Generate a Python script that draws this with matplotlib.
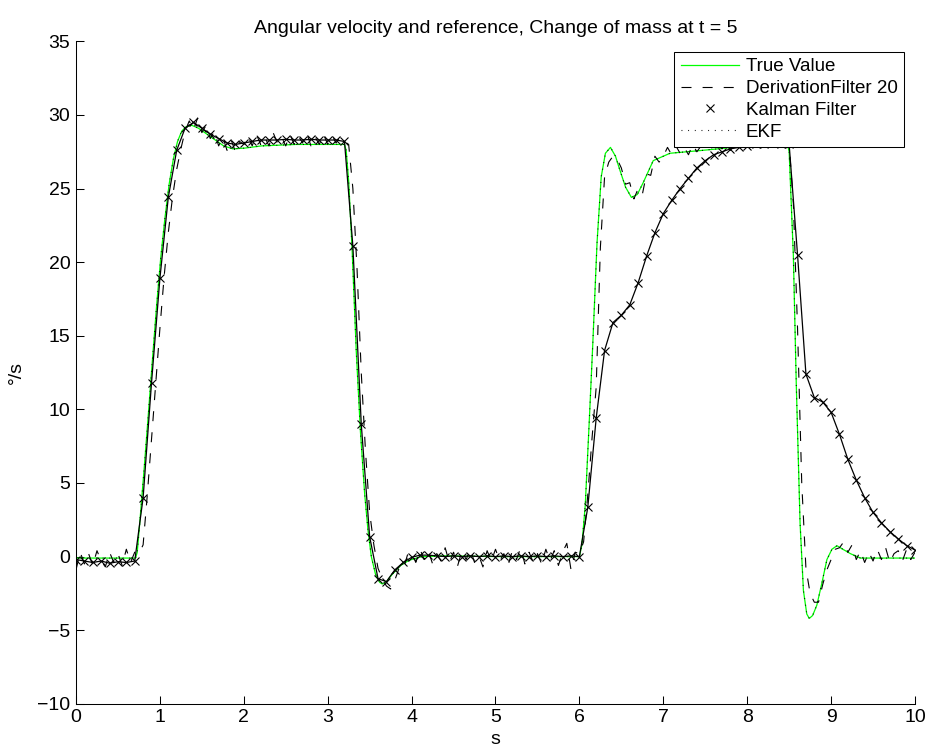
import numpy as np
import matplotlib
matplotlib.use('Agg')
from matplotlib import pyplot as plt

plt.rcParams['font.family'] = ['Liberation Sans', 'DejaVu Sans']

# true angular velocity
true_t = [0.0, 0.71, 0.73, 0.76, 0.81, 0.86, 0.91, 0.96, 1.01, 1.06, 1.11, 1.16, 1.21, 1.26,
          1.31, 1.38, 1.46, 1.56, 1.66, 1.76, 1.87, 2.01, 2.21, 2.62, 3.02, 3.20, 3.22, 3.25,
          3.29, 3.34, 3.39, 3.44, 3.48, 3.52, 3.57, 3.62, 3.65, 3.70, 3.77, 3.87, 3.97, 4.12,
          4.42, 5.03, 5.53, 6.00, 6.03, 6.07, 6.12, 6.16, 6.21, 6.26, 6.31, 6.37, 6.43, 6.48,
          6.55, 6.62, 6.69, 6.76, 6.88, 7.08, 7.47, 7.83, 8.24, 8.48, 8.50, 8.55, 8.585, 8.63,
          8.67, 8.71, 8.74, 8.78, 8.83, 8.89, 8.95, 9.01, 9.07, 9.14, 9.23, 9.35, 9.55, 10.0]
true_v = [-0.1, -0.1, 0.3, 2.3, 5.8, 9.5, 13.3, 17.0, 20.3, 23.0, 25.3, 27.0, 28.2, 28.9,
          29.2, 29.3, 29.1, 28.7, 28.3, 27.9, 27.7, 27.75, 27.9, 28.0, 28.0, 28.0, 27.6, 25.5,
          21.0, 14.0, 8.5, 4.3, 1.8, 0.0, -1.2, -1.75, -1.86, -1.7, -1.2, -0.6, -0.25, 0.0,
          0.05, 0.0, 0.0, 0.0, 0.8, 3.5, 9.5, 14.5, 21.3, 25.8, 27.4, 27.8, 27.2, 26.3,
          25.1, 24.4, 24.6, 25.4, 26.9, 27.4, 27.6, 27.8, 28.0, 28.0, 27.5, 20.5, 11.7, 2.3,
          -2.3, -3.9, -4.2, -4.0, -3.3, -1.8, -0.2, 0.5, 0.74, 0.5, 0.2, -0.1, -0.1, -0.1]

# EKF lies on top of the true value everywhere
ekf_t = list(true_t)
ekf_v = list(true_v)

# derivation filter, sampled every 0.05 s (noisy)
deriv_t = np.linspace(0, 10, 201)
deriv_v = [-0.9, 0.3, -0.5, 0.2, -0.6, 0.4, -0.3, -0.7, 0.3, -0.4,
           0.2, -0.6, 0.5, -0.4, 0.3, 0.2, 0.8, 4.2, 8.0, 11.8,
           15.5, 19.0, 22.0, 24.4, 26.3, 27.7, 28.9, 29.6, 29.0, 29.8,
           28.8, 29.3, 28.4, 28.9, 27.9, 28.5, 27.6, 28.3, 27.5, 28.2,
           28.0, 28.6, 27.9, 28.7, 28.0, 28.5, 27.9, 28.8, 28.1, 28.5,
           27.9, 28.7, 28.0, 28.6, 28.1, 28.8, 27.9, 28.5, 28.0, 28.7,
           28.0, 28.6, 28.1, 28.5, 28.2, 28.0, 25.0, 19.5, 12.5, 7.2,
           3.0, 0.8, -0.8, -1.5, -2.0, -2.2, -1.6, -0.8, -0.9, 0.1,
           0.3, -0.4, 0.5, -0.2, 0.4, -0.5, 0.2, -0.3, 0.6, -0.4,
           0.3, -0.6, 0.4, -0.2, 0.5, -0.4, 0.1, -0.7, 0.4, -0.3,
           0.5, -0.3, 0.2, -0.6, 0.4, -0.2, 0.6, -0.5, 0.3, -0.4,
           0.2, -0.5, 0.5, -0.3, 0.4, -0.6, 0.3, 0.9, -0.9, 0.3,
           0.2, 1.0, 4.2, 8.0, 11.5, 21.0, 25.8, 26.8, 27.2, 27.0,
           26.4, 25.3, 25.4, 24.3, 25.0, 24.6, 26.0, 25.9, 27.2, 26.8,
           27.2, 27.8, 27.3, 27.9, 27.4, 27.8, 27.3, 28.0, 27.5, 27.9,
           27.6, 28.1, 27.5, 28.0, 27.7, 28.2, 27.6, 28.1, 27.8, 28.3,
           27.7, 28.3, 27.9, 28.4, 27.8, 28.2, 28.0, 28.5, 27.9, 28.2,
           28.0, 24.0, 15.5, 5.0, -0.8, -2.5, -3.1, -3.1, -1.9, -0.9,
           -0.2, 0.5, 0.6, 1.0, 0.3, 0.8, -0.2, 0.4, -0.4, 0.3,
           -0.3, 0.5, -0.2, 0.6, -0.4, 0.2, 0.4, -0.3, 0.5, -0.2,
           0.3]

# kalman filter, one sample every 0.1 s
kalman_t = np.linspace(0, 10, 101)
kalman_v = [-0.2, -0.3, -0.4, -0.3, -0.45, -0.35, -0.4, -0.3, 4.0, 11.8,
            18.9, 24.4, 27.6, 29.1, 29.5, 29.1, 28.7, 28.4, 28.1, 28.0,
            28.1, 28.2, 28.3, 28.3, 28.3, 28.35, 28.3, 28.3, 28.35, 28.3,
            28.3, 28.3, 28.2, 21.1, 9.0, 1.35, -1.5, -1.7, -0.9, -0.4,
            -0.05, 0.1, 0.1, 0.05, 0.0, 0.05, 0.0, 0.05, 0.0, 0.05,
            0.0, 0.05, 0.0, 0.05, 0.0, 0.05, 0.0, 0.05, 0.0, 0.05,
            0.0, 3.35, 9.4, 14.0, 15.9, 16.4, 17.1, 18.6, 20.4, 22.0,
            23.3, 24.2, 25.0, 25.7, 26.4, 26.9, 27.3, 27.5, 27.7, 27.8,
            27.9, 28.0, 28.0, 28.1, 28.0, 28.0, 20.5, 12.4, 10.8, 10.5,
            9.8, 8.3, 6.6, 5.2, 4.0, 3.0, 2.3, 1.7, 1.2, 0.75,
            0.45]

fig = plt.figure(figsize=(9.28, 7.51), dpi=100)
ax = fig.add_axes([76 / 928, 1 - 703.8 / 751, 839 / 928, 662.4 / 751])

ax.plot(true_t, true_v, color=(0, 1, 0), lw=0.9, label='True Value')
ax.plot(deriv_t, deriv_v, color='k', lw=0.8, dashes=(9, 10), label='DerivationFilter 20')
ax.plot(kalman_t, kalman_v, color='k', lw=0.9)
ax.plot(kalman_t, kalman_v, 'x', color='k', ms=6, mew=0.8, label='Kalman Filter')
ax.plot(ekf_t, ekf_v, color='k', lw=0.8, dashes=(0.8, 5.2), label='EKF')

ax.set_xlim(0, 10)
ax.set_ylim(-10, 35)
ax.set_xticks(range(0, 11))
ax.set_yticks(range(-10, 36, 5))
for s in ['top', 'right']:
    ax.spines[s].set_visible(False)
for s in ['left', 'bottom']:
    ax.spines[s].set_linewidth(0.75)
ax.tick_params(direction='in', length=6, width=0.75, pad=4, labelsize=14)

ax.set_title('Angular velocity and reference, Change of mass at t = 5', fontsize=14, pad=6)
ax.set_xlabel('s', fontsize=14, labelpad=3)
ax.set_ylabel('°/s', fontsize=14, labelpad=9)

leg = ax.legend(loc='upper right', bbox_to_anchor=(0.987, 0.9845), borderaxespad=0,
                fontsize=13.5, fancybox=False, framealpha=1, edgecolor='k',
                handlelength=3.1, handletextpad=0.35, labelspacing=0.25, borderpad=0.35)
leg.get_frame().set_linewidth(0.75)

plt.savefig('out.png', dpi=100)
